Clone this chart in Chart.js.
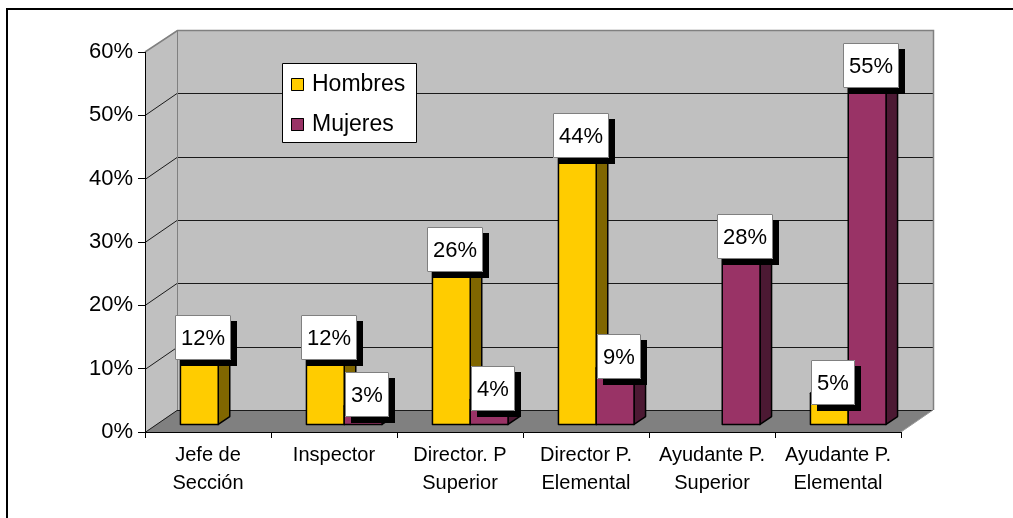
<!DOCTYPE html>
<html>
<head>
<meta charset="utf-8">
<script src="https://cdn.jsdelivr.net/npm/chart.js@4.4.0/dist/chart.umd.min.js"></script>
<style>
  html, body { margin: 0; padding: 0; background: #fff; overflow: hidden; }
  #wrap { position: relative; width: 1013px; height: 518px; overflow: hidden; }
  #frame { position: absolute; left: 6px; top: 8px; width: 1100px; height: 600px; border: 2px solid #000; box-sizing: border-box; }
  canvas { position: absolute; left: 0; top: 0; }
</style>
</head>
<body>
<div id="wrap">
  <div id="frame"></div>
  <canvas id="chart" width="1013" height="518"></canvas>
</div>
<script>
// ── Data ─────────────────────────────────────────────────────────────────────
const categories = [
    ['Jefe de', 'Sección'],
    'Inspector',
    ['Director. P', 'Superior'],
    ['Director P.', 'Elemental'],
    ['Ayudante P.', 'Superior'],
    ['Ayudante P.', 'Elemental'],
];
const hombres = [12, 12, 26, 44, null, 5];
const mujeres = [null, 3, 4, 9, 28, 55];
const seriesNames = ['Hombres', 'Mujeres'];

// ── Look ─────────────────────────────────────────────────────────────────────
const FONT = "'Liberation Sans', Arial, sans-serif";
const FRONT_COLORS = ['#FFCC00', '#993366'];
const SIDE_COLORS  = ['#806600', '#4C1933'];
const DX = 32, DY = -22;              // full depth of the 3D box
const BAR_FRONT = 0.32, BAR_BACK = 0.68;

function poly(ctx, pts, fill, stroke, lw) {
    ctx.beginPath();
    pts.forEach(([x, y], i) => i ? ctx.lineTo(x, y) : ctx.moveTo(x, y));
    ctx.closePath();
    if (fill) { ctx.fillStyle = fill; ctx.fill(); }
    if (stroke) { ctx.lineWidth = lw || 1; ctx.strokeStyle = stroke; ctx.stroke(); }
}

function line(ctx, pts, color, lw) {
    ctx.beginPath();
    pts.forEach(([x, y], i) => i ? ctx.lineTo(x, y) : ctx.moveTo(x, y));
    ctx.lineWidth = lw || 1;
    ctx.strokeStyle = color;
    ctx.stroke();
}

// ── Walls, floor, gridlines ──────────────────────────────────────────────────
const wallsPlugin = {
    id: 'walls',
    beforeDraw(chart) {
        const { ctx, chartArea: a, scales: { y } } = chart;
        ctx.save();
        poly(ctx, [[a.left, a.top], [a.left + DX, a.top + DY], [a.left + DX, a.bottom + DY], [a.left, a.bottom]], '#C0C0C0');
        poly(ctx, [[a.left + DX, a.top + DY], [a.right + DX, a.top + DY], [a.right + DX, a.bottom + DY], [a.left + DX, a.bottom + DY]], '#C0C0C0');
        poly(ctx, [[a.left, a.bottom], [a.left + DX, a.bottom + DY], [a.right + DX, a.bottom + DY], [a.right, a.bottom]], '#808080');

        y.ticks.forEach(t => {
            if (t.value >= y.max) return;
            const py = Math.round(y.getPixelForValue(t.value)) + 0.5;
            line(ctx, [[a.left, py], [a.left + DX, py + DY], [a.right + DX, py + DY]], '#1a1a1a', 1);
        });

        // wall edges
        const top = a.top + DY + 0.5;
        line(ctx, [[a.left, a.top], [a.left + DX + 0.5, top], [a.right + DX + 0.5, top], [a.right + DX + 0.5, a.bottom + DY]], '#808080', 1.5);
        line(ctx, [[a.left + DX + 0.5, top], [a.left + DX + 0.5, a.bottom + DY]], '#808080', 1);
        line(ctx, [[a.right, a.bottom], [a.right + DX, a.bottom + DY]], '#9a9a9a', 1);
        ctx.restore();
    },
    beforeDatasetsDraw() { return false; },
    afterDraw(chart) {
        const { ctx } = chart;
        const fx = DX * BAR_FRONT, fy = DY * BAR_FRONT;
        const bx = DX * (BAR_BACK - BAR_FRONT), by = DY * (BAR_BACK - BAR_FRONT);
        const labels = [];
        ctx.save();
        ctx.lineJoin = 'round';

        categories.forEach((_, i) => {
            chart.data.datasets.forEach((ds, d) => {
                const v = ds.data[i];
                if (v == null) return;
                const el = chart.getDatasetMeta(d).data[i];
                const l = el.x - el.width / 2 + fx, r = el.x + el.width / 2 + fx;
                const t = el.y + fy, b = el.base + fy;
                poly(ctx, [[r, t], [r + bx, t + by], [r + bx, b + by], [r, b]], SIDE_COLORS[d], '#000', 1.5);
                poly(ctx, [[l, t], [l + bx, t + by], [r + bx, t + by], [r, t]], FRONT_COLORS[d], '#000', 1.5);
                poly(ctx, [[l, t], [r, t], [r, b], [l, b]], FRONT_COLORS[d], '#000', 1.5);
                labels.push({ text: v + '%', cx: (l + r) / 2 + 4, cy: t - 11 });
            });
        });

        // data labels
        ctx.font = `22px ${FONT}`;
        ctx.textAlign = 'center';
        ctx.textBaseline = 'middle';
        labels.forEach(({ text, cx, cy }) => {
            const w = Math.round(ctx.measureText(text).width + 12), h = 45;
            const x = Math.round(cx - w / 2), y = Math.round(cy - h / 2);
            ctx.fillStyle = '#000';
            ctx.fillRect(x + 6, y + 6, w, h);
            ctx.fillStyle = '#fff';
            ctx.fillRect(x, y, w, h);
            ctx.lineWidth = 1;
            ctx.strokeStyle = '#808080';
            ctx.strokeRect(x + 0.5, y + 0.5, w - 1, h - 1);
            ctx.fillStyle = '#000';
            ctx.fillText(text, x + w / 2, y + h / 2 + 1);
        });

        // legend
        ctx.fillStyle = '#fff';
        ctx.fillRect(282, 63, 134, 79);
        ctx.lineWidth = 1;
        ctx.strokeStyle = '#000';
        ctx.strokeRect(282.5, 63.5, 134, 79);
        ctx.font = `23px ${FONT}`;
        ctx.textAlign = 'left';
        chart.data.datasets.forEach((ds, d) => {
            const cy = 85 + d * 40;
            ctx.fillStyle = FRONT_COLORS[d];
            ctx.fillRect(291, cy - 7, 13, 13);
            ctx.strokeRect(291.5, cy - 6.5, 12, 12);
            ctx.fillStyle = '#000';
            ctx.fillText(ds.label, 312, cy);
        });
        ctx.restore();
    },
};

// ── Chart ────────────────────────────────────────────────────────────────────
new Chart(document.getElementById('chart').getContext('2d'), {
    type: 'bar',
    data: {
        labels: categories,
        datasets: [
            { label: seriesNames[0], data: hombres, backgroundColor: FRONT_COLORS[0] },
            { label: seriesNames[1], data: mujeres, backgroundColor: FRONT_COLORS[1] },
        ],
    },
    options: {
        responsive: false,
        animation: false,
        layout: { padding: { left: 0, top: 52, right: 112, bottom: 0 } },
        datasets: { bar: { categoryPercentage: 0.6, barPercentage: 1.0 } },
        plugins: { legend: { display: false }, tooltip: { enabled: false } },
        scales: {
            x: {
                afterFit: s => { s.height = 86; },
                grid: { drawOnChartArea: false, drawTicks: true, tickLength: 6, color: '#000', offset: true },
                border: { display: true, color: '#000', width: 1 },
                ticks: { color: '#000', padding: 3, maxRotation: 0, autoSkip: false, font: { family: FONT, size: 20, lineHeight: 1.4 } },
            },
            y: {
                min: 0,
                max: 60,
                afterFit: s => { s.width = 145; },
                grid: { drawOnChartArea: false, drawTicks: true, tickLength: 7, color: '#000' },
                border: { display: true, color: '#000', width: 1 },
                ticks: { stepSize: 10, color: '#000', padding: 5, font: { family: FONT, size: 22 }, callback: v => v + '%' },
            },
        },
    },
    plugins: [wallsPlugin],
});
</script>
</body>
</html>
